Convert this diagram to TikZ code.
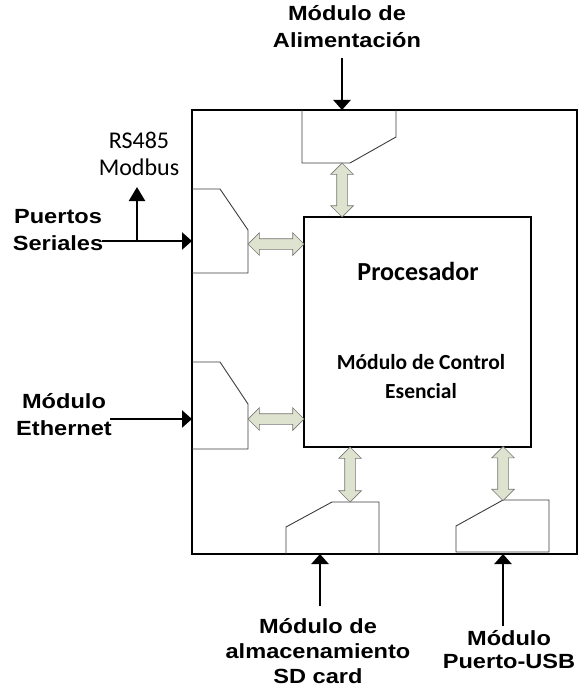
\documentclass[tikz,border=0pt]{standalone}
\usepackage{fontspec}
\newfontfamily\lblfont[FakeStretch=1.15]{Liberation Sans}
\newfontfamily\calfont{Carlito}
\usetikzlibrary{arrows.meta,shapes.arrows,calc}
\definecolor{busfill}{RGB}{221,227,206}
\definecolor{busline}{RGB}{120,120,120}
\definecolor{modline}{RGB}{60,60,60}

\begin{document}
\begin{tikzpicture}[x=1pt, y=-1pt,
    board/.style={draw=black, line width=2pt, inner sep=0pt, outer sep=0pt, anchor=north west},
    module/.style={draw=modline, line width=0.9pt},
    bus/.style={double arrow, draw=busline, fill=busfill, line width=0.7pt,
        double arrow head extend=6pt, inner xsep=0pt, inner ysep=5pt},
    extarrow/.style={-{Triangle[width=17pt,length=10pt]}, line width=2.5pt},
    extlabel/.style={font=\lblfont\bfseries\fontsize{20.5}{#1}\selectfont, align=center, inner sep=0pt},
    extlabel/.default=27,
    callabel/.style={font=\calfont\fontsize{24}{27}\selectfont, align=center, inner sep=0pt}
]
    \useasboundingbox (0,0) rectangle (579,690);

    % Board and processor
    \node[board, minimum width=385pt, minimum height=444pt] (board) at (192,110) {};
    \node[board, minimum width=227pt, minimum height=230pt] (cpu) at (304,217) {};
    \node[font=\calfont\bfseries\fontsize{26}{29}\selectfont, anchor=base] (cpuname) at (418,280) {Procesador};
    \node[font=\calfont\bfseries\fontsize{21.5}{29}\selectfont, align=center, inner sep=0pt] (cpucore) at (421,377) {Módulo de Control\\Esencial};

    % Modules
    \draw[module] (302,110) -- (302,163) -- (350,163) -- (396,137) -- (396,110);
    \draw[module] (192,189) -- (220,189) -- (248,230) -- (248,273) -- (192,273);
    \draw[module] (192,362) -- (220,362) -- (248,404) -- (248,449) -- (192,449);
    \draw[module] (286,554) -- (286,527) -- (332,502) -- (379,502) -- (379,554);
    \draw[module] (456,552) -- (456,526) -- (503,500) -- (549,500) -- (549,552) -- cycle;
    \coordinate (pwrport) at (342,163);
    \coordinate (serport) at (248,244);
    \coordinate (ethport) at (248,419);
    \coordinate (sdport) at (350,502);
    \coordinate (usbport) at (503,500);

    % Buses to the processor
    \node[bus, rotate=90, minimum height=54pt] (pwrbus) at ($(pwrport)!0.5!(pwrport |- cpu.north)$) {};
    \node[bus, minimum height=56pt] (serbus) at ($(serport)!0.5!(serport -| cpu.west)$) {};
    \node[bus, minimum height=56pt] (ethbus) at ($(ethport)!0.5!(ethport -| cpu.west)$) {};
    \node[bus, rotate=90, minimum height=55pt] (sdbus) at ($(sdport)!0.5!(sdport |- cpu.south)$) {};
    \node[bus, rotate=90, minimum height=54pt] (usbbus) at ($(usbport)!0.5!(usbport |- cpu.south)$) {};

    % Outside connections
    \coordinate (pwrsrc) at (342,58);
    \coordinate (sersrc) at (102,241);
    \coordinate (sertap) at (137,241);
    \coordinate (rstip) at (137,187);
    \coordinate (ethsrc) at (110,419);
    \coordinate (sdsrc) at (320,606);
    \coordinate (usbsrc) at (503,626);
    \draw[extarrow] (pwrsrc) -- (pwrsrc |- board.north);
    \draw[extarrow] (sersrc) -- (sersrc -| board.west);
    \draw[line width=2.5pt, -{Triangle[width=16pt,length=14pt]}] (sertap) -- (rstip);
    \draw[extarrow] (ethsrc) -- (ethsrc -| board.west);
    \draw[extarrow] (sdsrc) -- (sdsrc |- board.south);
    \draw[extarrow] (usbsrc) -- (usbsrc |- board.south);

    % Labels
    \node[extlabel] (pwrlbl) at (347,27) {Módulo de\\Alimentación};
    \node[callabel] (rslbl) at (139,154) {RS485\\Modbus};
    \node[extlabel] (serlbl) at (58,230) {Puertos\\Seriales};
    \node[extlabel] (ethlbl) at (64,414.5) {Módulo\\Ethernet};
    \node[extlabel=25] (sdlbl) at (318,651) {Módulo de\\almacenamiento\\SD card};
    \node[extlabel=23] (usblbl) at (509,649.5) {Módulo\\Puerto-USB};
\end{tikzpicture}
\end{document}
